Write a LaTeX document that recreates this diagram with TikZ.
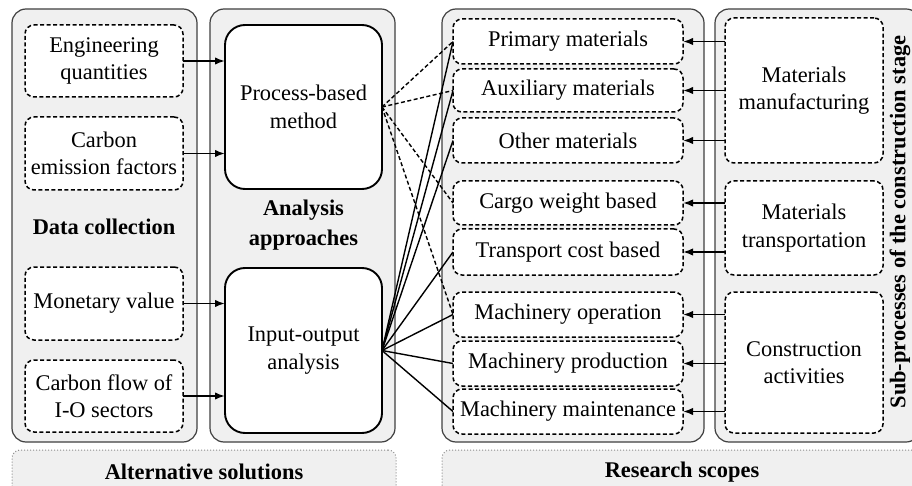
\documentclass[tikz,border=0pt]{standalone}
\usepackage{fontspec}
\setmainfont{Liberation Serif}
\usetikzlibrary{arrows.meta}
\definecolor{panelfill}{HTML}{F0F0F0}
\definecolor{panelline}{HTML}{404040}
\definecolor{dotline}{HTML}{8A8A8A}
\newcommand\basefont{\fontsize{22.4}{27.5}\selectfont}
\tikzset{
  panel/.style={draw=panelline, line width=1.2pt, fill=panelfill, rounded corners=14pt,
    inner sep=0pt, outer sep=0pt},
  footer/.style={draw=dotline, line width=1pt, dotted, fill=panelfill, rounded corners=8pt,
    inner sep=0pt, outer sep=0pt},
  dbox/.style={draw, line width=1.5pt, dash pattern=on 4pt off 2.5pt, fill=white,
    rounded corners=9pt, align=center, inner sep=0pt, outer sep=0pt},
  mbox/.style={draw, line width=1.9pt, fill=white, rounded corners=20pt,
    align=center, inner sep=0pt, outer sep=0pt},
  arr/.style={line width=1.9pt, -{Latex[length=10pt,width=7.5pt]}},
  solidlink/.style={line width=1.4pt},
  dashlink/.style={line width=1.4pt, dash pattern=on 4pt off 2.5pt},
  heading/.style={font=\basefont\bfseries, align=center, inner sep=0pt},
}
\begin{document}
\begin{tikzpicture}[x=1pt, y=-1pt, font=\basefont]
\useasboundingbox (0,0) rectangle (912,486);

% background panels
\node[panel, minimum width=185pt, minimum height=433pt] (dcpanel) at (104.5,225.5) {};
\node[panel, minimum width=185pt, minimum height=433pt] (aapanel) at (302.5,225.5) {};
\node[panel, minimum width=262pt, minimum height=433pt] (rspanel) at (573,225.5) {};
\node[panel, minimum width=205pt, minimum height=433pt] (sppanel) at (817.5,225.5) {};

% footer labels
\node[footer, minimum width=384pt, minimum height=60pt] (altbox) at (204,480) {};
\node[footer, minimum width=484pt, minimum height=60pt] (rsbox) at (684,480) {};
\node[heading] (alttext) at (204,472) {Alternative solutions};
\node[heading] (rstext) at (682,472) {Research scopes};

% panel headings
\node[heading] (dctext) at (104,227) {Data collection};
\node[heading] (aatext) at (303.5,225) {Analysis\\[2pt]approaches};
\node[heading, rotate=90] (sptext) at (900,222) {Sub-processes of the construction stage};

% data collection
\node[dbox, minimum width=158pt, minimum height=72pt] (eq) at (104,61) {Engineering\\quantities};
\node[dbox, minimum width=158pt, minimum height=73pt] (cef) at (104,153.5) {Carbon\\emission factors};
\node[dbox, minimum width=158pt, minimum height=73pt] (mv) at (104,303.5) {Monetary value};
\node[dbox, minimum width=158pt, minimum height=72pt] (cfio) at (104,396) {Carbon flow of\\I-O sectors};

% analysis approaches
\node[mbox, minimum width=157pt, minimum height=164pt] (pbm) at (303.5,107) {Process-based\\method};
\node[mbox, minimum width=157pt, minimum height=165pt] (ioa) at (303.5,350.5) {Input-output\\analysis};

% research scopes
\node[dbox, minimum width=230pt, minimum height=45pt] (pm) at (568,41.5) {Primary materials};
\node[dbox, minimum width=230pt, minimum height=43pt] (am) at (568,90.5) {Auxiliary materials};
\node[dbox, minimum width=230pt, minimum height=45pt] (om) at (568,140.5) {Other materials};
\node[dbox, minimum width=230pt, minimum height=44pt] (cw) at (568,203) {Cargo weight based};
\node[dbox, minimum width=230pt, minimum height=46pt] (tc) at (568,252) {Transport cost based};
\node[dbox, minimum width=230pt, minimum height=45pt] (mo) at (568,314.5) {Machinery operation};
\node[dbox, minimum width=230pt, minimum height=45pt] (mp) at (568,363.5) {Machinery production};
\node[dbox, minimum width=230pt, minimum height=45pt] (mmt) at (568,411.5) {Machinery maintenance};

% sub-processes
\node[dbox, minimum width=158pt, minimum height=145pt] (mmf) at (804,90.5) {Materials\\manufacturing};
\node[dbox, minimum width=158pt, minimum height=94pt] (mtr) at (804,228) {Materials\\transportation};
\node[dbox, minimum width=158pt, minimum height=141pt] (cac) at (804,362.5) {Construction\\activities};

% data feeding the approaches
\draw[arr] (eq.east) -- (eq.east -| pbm.west);
\draw[arr] (cef.east) -- (cef.east -| pbm.west);
\draw[arr] (mv.east) -- (mv.east -| ioa.west);
\draw[arr] (cfio.east) -- (cfio.east -| ioa.west);

% approaches linked to scopes
\foreach \s in {pm, am, om, tc, mo, mp, mmt}
  \draw[solidlink] (ioa.east) -- (\s.west);
\foreach \s in {pm, am, cw, mo}
  \draw[dashlink] (pbm.east) -- (\s.west);

% sub-processes defining the scopes
\foreach \s in {pm, am, om}
  \draw[arr] (mmf.west |- \s.east) -- (\s.east);
\foreach \s in {cw, tc}
  \draw[arr] (mtr.west |- \s.east) -- (\s.east);
\foreach \s in {mo, mp, mmt}
  \draw[arr] (cac.west |- \s.east) -- (\s.east);
\end{tikzpicture}
\end{document}
